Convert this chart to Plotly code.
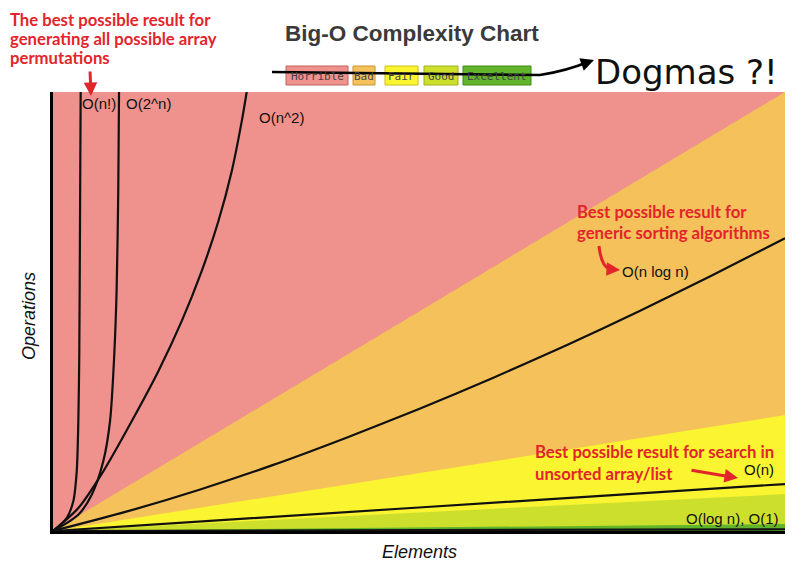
import plotly.graph_objects as go

# ---------------- data (x = elements 0..100, y = operations 0..100) -------------
region_x = [0, 100]
horrible_y = [100, 100]
bad_y = [0, 100]
fair_y = [0, 26.4]
good_y = [0, 8.4]
excellent_y = [0, 1.6]

fact_x = [0, 1.87, 2.77, 3.24, 3.46, 3.59, 3.69, 3.78]
fact_y = [0, 2.96, 6.77, 13.6, 25.0, 40.2, 70.5, 100]

exp_x = [0, 3.46, 5.29, 6.87, 7.79, 8.37, 8.70, 8.92, 9.02]
exp_y = [0, 3.71, 8.27, 15.9, 25.0, 40.2, 55.4, 78.1, 100]

sq_x = [0, 3.46, 6.87, 10.75, 14.39, 17.58, 20.31, 22.58, 24.41, 25.78, 26.46]
sq_y = [0, 5.24, 13.6, 25.0, 36.4, 47.8, 59.2, 70.5, 81.9, 93.3, 100]

nlogn_x = [0, 10, 20, 30, 40, 50, 60, 70, 80, 90, 100]
nlogn_y = [0, 4.4, 9.4, 15.0, 21.2, 27.8, 34.8, 42.2, 50.0, 58.2, 66.7]

lin_x = [0, 50, 100]
lin_y = [0, 5.35, 10.7]

log_x = [0, 100]
log_y = [0, 0.4]

categories = ["Horrible", "Bad", "Fair", "Good", "Excellent"]
cat_colors = ["#EF918C", "#F4C15B", "#FBF431", "#CCDF2C", "#62B52B"]
cat_borders = ["#C0625E", "#C99433", "#C9C215", "#9DB019", "#3E8A14"]

curve_labels = ["O(n!)", "O(2^n)", "O(n^2)", "O(n log n)", "O(n)", "O(log n), O(1)"]

# ---------------- layout helpers ----------------
W, H = 800, 564
L, R, T, B = 53, 785, 92, 531


def P(px, py):
    return (px - L) / (R - L), (B - py) / (B - T)


fig = go.Figure()

for ys, col in zip([horrible_y, bad_y, fair_y, good_y, excellent_y], cat_colors):
    fig.add_trace(go.Scatter(x=region_x, y=ys, mode="lines", line=dict(width=0, color=col),
                             fill="tozeroy", fillcolor=col, hoverinfo="skip", showlegend=False))

for xs, ys in [(fact_x, fact_y), (exp_x, exp_y), (sq_x, sq_y), (nlogn_x, nlogn_y), (lin_x, lin_y), (log_x, log_y)]:
    fig.add_trace(go.Scatter(x=xs, y=ys, mode="lines",
                             line=dict(color="#111111", width=2.2, shape="spline", smoothing=0.8),
                             showlegend=False, hoverinfo="skip"))

annotations = []
shapes = []


def text(px, py, s, size=15, color="#111111", family="Liberation Sans", xanchor="left", yanchor="middle", **kw):
    x, y = P(px, py)
    annotations.append(dict(x=x, y=y, xref="paper", yref="paper", text=s, showarrow=False,
                            font=dict(size=size, color=color, family=family),
                            xanchor=xanchor, yanchor=yanchor, **kw))


# title
text(412, 34, "<b>Big-O Complexity Chart</b>", size=22.5, color="#3a3a3a", xanchor="center")

# legend boxes
boxes = [(286, 348), (353, 375), (385, 418), (424, 458), (463, 531)]
for (x0, x1), name, col, bc in zip(boxes, categories, cat_colors, cat_borders):
    a0, b0 = P(x0, 85)
    a1, b1 = P(x1, 66)
    shapes.append(dict(type="rect", xref="paper", yref="paper", x0=a0, y0=b0, x1=a1, y1=b1,
                       fillcolor=col, line=dict(color=bc, width=1)))
    text((x0 + x1) / 2, 76, name, size=11, color="#444444", family="DejaVu Sans Mono", xanchor="center")

# strike-through line with arrow to "Dogmas ?!"
pts = [P(272, 72), P(540, 75), P(566, 71), P(588, 62)]
path = "M {},{} L {},{} Q {},{} {},{}".format(pts[0][0], pts[0][1], pts[1][0], pts[1][1],
                                              pts[2][0], pts[2][1], pts[3][0], pts[3][1])
shapes.append(dict(type="path", xref="paper", yref="paper", path=path, line=dict(color="black", width=2.5)))
tx, ty = P(594, 60)
annotations.append(dict(x=tx, y=ty, xref="paper", yref="paper", text="", showarrow=True,
                        ax=-14, ay=5, arrowhead=2, arrowsize=1.2, arrowwidth=2.2, arrowcolor="black"))
text(686, 72, "Dogmas ?!", size=34, color="#111111", family="DejaVu Sans", xanchor="center")

# curve labels
text(80, 104, curve_labels[0])
text(124, 104, curve_labels[1])
text(257, 117, curve_labels[2])
text(620, 271, curve_labels[3])
text(776, 469, curve_labels[4], xanchor="right")
text(781, 518, curve_labels[5], xanchor="right")

# axis titles
text(419, 552, "<i>Elements</i>", size=18, xanchor="center")
text(29, 316, "<i>Operations</i>", size=18, xanchor="center", textangle=-90)

# red remarks
RED = "#E3242B"
remarks = [
    (8, [20, 39, 58], ["The best possible result for", "generating all possible array", "permutations"]),
    (575, [212, 233], ["Best possible result for", "generic sorting algorithms"]),
    (533, [452, 474], ["Best possible result for search in", "unsorted array/list"]),
]
for px, ys, lines in remarks:
    for py, s in zip(ys, lines):
        text(px, py, "<b>" + s + "</b>", size=16.7, color=RED, family="Lato")


def red_arrow(tail, tip):
    x, y = P(*tip)
    annotations.append(dict(x=x, y=y, xref="paper", yref="paper", text="", showarrow=True,
                            ax=tail[0] - tip[0], ay=tail[1] - tip[1], arrowhead=2, arrowsize=0.9,
                            arrowwidth=3, arrowcolor=RED))


red_arrow((90, 70), (91, 96))
c = [P(599, 246), P(601, 265), P(609, 269)]
shapes.append(dict(type="path", xref="paper", yref="paper",
                   path="M {},{} Q {},{} {},{}".format(c[0][0], c[0][1], c[1][0], c[1][1], c[2][0], c[2][1]),
                   line=dict(color=RED, width=3)))
red_arrow((606, 269), (620, 270))
red_arrow((690, 470), (738, 478))

fig.update_layout(
    width=W, height=H,
    margin=dict(l=L, r=W - R, t=T, b=H - B, pad=0),
    paper_bgcolor="white", plot_bgcolor="white",
    xaxis=dict(range=[0, 100], showgrid=False, zeroline=False, showticklabels=False, ticks="",
               showline=True, linecolor="black", linewidth=3, fixedrange=True),
    yaxis=dict(range=[0, 100], showgrid=False, zeroline=False, showticklabels=False, ticks="",
               showline=True, linecolor="black", linewidth=3, fixedrange=True),
    annotations=annotations, shapes=shapes, showlegend=False,
)

fig.write_html("out.html")
